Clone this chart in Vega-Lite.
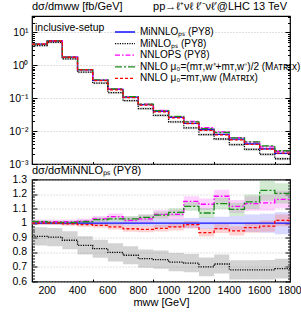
{
 "$schema": "https://vega.github.io/schema/vega-lite/v6.json",
 "padding": {"left": 5, "top": 0, "right": 5, "bottom": 5},
 "spacing": -7.5,
 "resolve": {"legend": {"color": "independent", "strokeDash": "independent"}},
 "config": {
  "font": "Liberation Sans",
  "view": {"stroke": "black", "strokeWidth": 1.2},
  "axis": {"grid": true, "gridColor": "#b0b0b0", "gridDash": [1, 2], "gridWidth": 0.8, "domain": false, "tickColor": "black", "labelFont": "Liberation Sans", "labelFontSize": 10.5, "labelColor": "black", "labelFlush": false, "labelOverlap": false, "titleFont": "Liberation Sans", "titleFontWeight": "normal", "titleFontSize": 11, "titleColor": "black"},
  "title": {"font": "Liberation Sans", "fontSize": 11, "fontWeight": "normal", "anchor": "start", "frame": "group", "color": "black"},
  "text": {"font": "Liberation Sans"}
 },
 "datasets": {
  "d": [
   {"g":"A","lo":100,"hi":200,"v":4.4,"vl":4.365,"vh":4.435,"r":1,"rl":0.992,"rh":1.008},
   {"g":"A","lo":200,"hi":300,"v":5.5,"vl":5.456,"vh":5.544,"r":1,"rl":0.992,"rh":1.008},
   {"g":"A","lo":300,"hi":400,"v":1.77,"vl":1.752,"vh":1.788,"r":1,"rl":0.99,"rh":1.01},
   {"g":"A","lo":400,"hi":500,"v":0.73,"vl":0.721,"vh":0.739,"r":1,"rl":0.988,"rh":1.012},
   {"g":"A","lo":500,"hi":600,"v":0.35,"vl":0.3448,"vh":0.3553,"r":1,"rl":0.985,"rh":1.015},
   {"g":"A","lo":600,"hi":700,"v":0.185,"vl":0.1817,"vh":0.1883,"r":1,"rl":0.982,"rh":1.018},
   {"g":"A","lo":700,"hi":800,"v":0.108,"vl":0.1058,"vh":0.1102,"r":1,"rl":0.98,"rh":1.02},
   {"g":"A","lo":800,"hi":900,"v":0.064,"vl":0.0624,"vh":0.0656,"r":1,"rl":0.975,"rh":1.025},
   {"g":"A","lo":900,"hi":1000,"v":0.04,"vl":0.0388,"vh":0.0412,"r":1,"rl":0.97,"rh":1.03},
   {"g":"A","lo":1000,"hi":1100,"v":0.026,"vl":0.02522,"vh":0.02678,"r":1,"rl":0.97,"rh":1.03},
   {"g":"A","lo":1100,"hi":1200,"v":0.0172,"vl":0.0166,"vh":0.0178,"r":1,"rl":0.965,"rh":1.035},
   {"g":"A","lo":1200,"hi":1300,"v":0.0112,"vl":0.01075,"vh":0.01165,"r":1,"rl":0.96,"rh":1.04},
   {"g":"A","lo":1300,"hi":1400,"v":0.008,"vl":0.00764,"vh":0.00836,"r":1,"rl":0.955,"rh":1.045},
   {"g":"A","lo":1400,"hi":1500,"v":0.0057,"vl":0.005415,"vh":0.005985,"r":1,"rl":0.95,"rh":1.05},
   {"g":"A","lo":1500,"hi":1600,"v":0.0041,"vl":0.003854,"vh":0.004346,"r":1,"rl":0.94,"rh":1.06},
   {"g":"A","lo":1600,"hi":1700,"v":0.0029,"vl":0.002712,"vh":0.003089,"r":1,"rl":0.935,"rh":1.065},
   {"g":"A","lo":1700,"hi":1800,"v":0.0021,"vl":0.001943,"vh":0.002258,"r":1,"rl":0.925,"rh":1.075},
   {"g":"B","lo":100,"hi":200,"v":4.004,"vl":3.727,"vh":4.281,"r":0.91,"rl":0.847,"rh":0.973},
   {"g":"B","lo":200,"hi":300,"v":4.978,"vl":4.631,"vh":5.324,"r":0.905,"rl":0.842,"rh":0.968},
   {"g":"B","lo":300,"hi":400,"v":1.563,"vl":1.453,"vh":1.673,"r":0.883,"rl":0.821,"rh":0.945},
   {"g":"B","lo":400,"hi":500,"v":0.619,"vl":0.574,"vh":0.664,"r":0.848,"rl":0.786,"rh":0.91},
   {"g":"B","lo":500,"hi":600,"v":0.2888,"vl":0.2671,"vh":0.3105,"r":0.825,"rl":0.763,"rh":0.887},
   {"g":"B","lo":600,"hi":700,"v":0.148,"vl":0.1365,"vh":0.1595,"r":0.8,"rl":0.738,"rh":0.862},
   {"g":"B","lo":700,"hi":800,"v":0.08424,"vl":0.07754,"vh":0.09094,"r":0.78,"rl":0.718,"rh":0.842},
   {"g":"B","lo":800,"hi":900,"v":0.04845,"vl":0.04448,"vh":0.05242,"r":0.757,"rl":0.695,"rh":0.819},
   {"g":"B","lo":900,"hi":1000,"v":0.03,"vl":0.02748,"vh":0.03252,"r":0.75,"rl":0.687,"rh":0.813},
   {"g":"B","lo":1000,"hi":1100,"v":0.01906,"vl":0.01742,"vh":0.0207,"r":0.733,"rl":0.67,"rh":0.796},
   {"g":"B","lo":1100,"hi":1200,"v":0.01249,"vl":0.0114,"vh":0.01357,"r":0.726,"rl":0.663,"rh":0.789},
   {"g":"B","lo":1200,"hi":1300,"v":0.00784,"vl":0.007123,"vh":0.008557,"r":0.7,"rl":0.636,"rh":0.764},
   {"g":"B","lo":1300,"hi":1400,"v":0.00576,"vl":0.00524,"vh":0.00628,"r":0.72,"rl":0.655,"rh":0.785},
   {"g":"B","lo":1400,"hi":1500,"v":0.003876,"vl":0.0035,"vh":0.004252,"r":0.68,"rl":0.614,"rh":0.746},
   {"g":"B","lo":1500,"hi":1600,"v":0.002788,"vl":0.002517,"vh":0.003059,"r":0.68,"rl":0.614,"rh":0.746},
   {"g":"B","lo":1600,"hi":1700,"v":0.001972,"vl":0.001778,"vh":0.002166,"r":0.68,"rl":0.613,"rh":0.747},
   {"g":"B","lo":1700,"hi":1800,"v":0.001445,"vl":0.001302,"vh":0.001588,"r":0.688,"rl":0.62,"rh":0.756},
   {"g":"C","lo":100,"hi":200,"v":4.444,"vl":4.378,"vh":4.51,"r":1.01,"rl":0.995,"rh":1.025},
   {"g":"C","lo":200,"hi":300,"v":5.555,"vl":5.473,"vh":5.638,"r":1.01,"rl":0.995,"rh":1.025},
   {"g":"C","lo":300,"hi":400,"v":1.788,"vl":1.761,"vh":1.814,"r":1.01,"rl":0.995,"rh":1.025},
   {"g":"C","lo":400,"hi":500,"v":0.741,"vl":0.7278,"vh":0.7541,"r":1.015,"rl":0.997,"rh":1.033},
   {"g":"C","lo":500,"hi":600,"v":0.3605,"vl":0.3535,"vh":0.3675,"r":1.03,"rl":1.01,"rh":1.05},
   {"g":"C","lo":600,"hi":700,"v":0.1933,"vl":0.1893,"vh":0.1974,"r":1.045,"rl":1.023,"rh":1.067},
   {"g":"C","lo":700,"hi":800,"v":0.1102,"vl":0.1075,"vh":0.1129,"r":1.02,"rl":0.995,"rh":1.045},
   {"g":"C","lo":800,"hi":900,"v":0.06592,"vl":0.06413,"vh":0.06771,"r":1.03,"rl":1.002,"rh":1.058},
   {"g":"C","lo":900,"hi":1000,"v":0.0424,"vl":0.0412,"vh":0.0436,"r":1.06,"rl":1.03,"rh":1.09},
   {"g":"C","lo":1000,"hi":1100,"v":0.02756,"vl":0.02673,"vh":0.02839,"r":1.06,"rl":1.028,"rh":1.092},
   {"g":"C","lo":1100,"hi":1200,"v":0.01978,"vl":0.01918,"vh":0.02038,"r":1.15,"rl":1.115,"rh":1.185},
   {"g":"C","lo":1200,"hi":1300,"v":0.01266,"vl":0.01221,"vh":0.0131,"r":1.13,"rl":1.09,"rh":1.17},
   {"g":"C","lo":1300,"hi":1400,"v":0.00948,"vl":0.00912,"vh":0.00984,"r":1.185,"rl":1.14,"rh":1.23},
   {"g":"C","lo":1400,"hi":1500,"v":0.006356,"vl":0.006099,"vh":0.006612,"r":1.115,"rl":1.07,"rh":1.16},
   {"g":"C","lo":1500,"hi":1600,"v":0.004654,"vl":0.004449,"vh":0.004859,"r":1.135,"rl":1.085,"rh":1.185},
   {"g":"C","lo":1600,"hi":1700,"v":0.003306,"vl":0.003147,"vh":0.003466,"r":1.14,"rl":1.085,"rh":1.195},
   {"g":"C","lo":1700,"hi":1800,"v":0.002442,"vl":0.002316,"vh":0.002568,"r":1.163,"rl":1.103,"rh":1.223},
   {"g":"D","lo":100,"hi":200,"v":4.444,"vl":4.391,"vh":4.497,"r":1.01,"rl":0.998,"rh":1.022},
   {"g":"D","lo":200,"hi":300,"v":5.528,"vl":5.462,"vh":5.594,"r":1.005,"rl":0.993,"rh":1.017},
   {"g":"D","lo":300,"hi":400,"v":1.779,"vl":1.758,"vh":1.8,"r":1.005,"rl":0.993,"rh":1.017},
   {"g":"D","lo":400,"hi":500,"v":0.7373,"vl":0.7271,"vh":0.7475,"r":1.01,"rl":0.996,"rh":1.024},
   {"g":"D","lo":500,"hi":600,"v":0.3588,"vl":0.3532,"vh":0.3644,"r":1.025,"rl":1.009,"rh":1.041},
   {"g":"D","lo":600,"hi":700,"v":0.1906,"vl":0.1872,"vh":0.1939,"r":1.03,"rl":1.012,"rh":1.048},
   {"g":"D","lo":700,"hi":800,"v":0.1112,"vl":0.1091,"vh":0.1134,"r":1.03,"rl":1.01,"rh":1.05},
   {"g":"D","lo":800,"hi":900,"v":0.06656,"vl":0.06515,"vh":0.06797,"r":1.04,"rl":1.018,"rh":1.062},
   {"g":"D","lo":900,"hi":1000,"v":0.0422,"vl":0.0412,"vh":0.0432,"r":1.055,"rl":1.03,"rh":1.08},
   {"g":"D","lo":1000,"hi":1100,"v":0.02795,"vl":0.02722,"vh":0.02868,"r":1.075,"rl":1.047,"rh":1.103},
   {"g":"D","lo":1100,"hi":1200,"v":0.01918,"vl":0.01866,"vh":0.01969,"r":1.115,"rl":1.085,"rh":1.145},
   {"g":"D","lo":1200,"hi":1300,"v":0.01198,"vl":0.01159,"vh":0.01238,"r":1.07,"rl":1.035,"rh":1.105},
   {"g":"D","lo":1300,"hi":1400,"v":0.00908,"vl":0.00876,"vh":0.0094,"r":1.135,"rl":1.095,"rh":1.175},
   {"g":"D","lo":1400,"hi":1500,"v":0.006242,"vl":0.005985,"vh":0.006498,"r":1.095,"rl":1.05,"rh":1.14},
   {"g":"D","lo":1500,"hi":1600,"v":0.004703,"vl":0.004498,"vh":0.004908,"r":1.147,"rl":1.097,"rh":1.197},
   {"g":"D","lo":1600,"hi":1700,"v":0.003553,"vl":0.00335,"vh":0.003756,"r":1.225,"rl":1.155,"rh":1.295},
   {"g":"D","lo":1700,"hi":1800,"v":0.00253,"vl":0.002384,"vh":0.002678,"r":1.205,"rl":1.135,"rh":1.275},
   {"g":"E","lo":100,"hi":200,"v":4.4,"vl":4.356,"vh":4.444,"r":1,"rl":0.99,"rh":1.01},
   {"g":"E","lo":200,"hi":300,"v":5.5,"vl":5.445,"vh":5.555,"r":1,"rl":0.99,"rh":1.01},
   {"g":"E","lo":300,"hi":400,"v":1.761,"vl":1.74,"vh":1.782,"r":0.995,"rl":0.983,"rh":1.007},
   {"g":"E","lo":400,"hi":500,"v":0.7227,"vl":0.7125,"vh":0.7329,"r":0.99,"rl":0.976,"rh":1.004},
   {"g":"E","lo":500,"hi":600,"v":0.3448,"vl":0.3392,"vh":0.3504,"r":0.985,"rl":0.969,"rh":1.001},
   {"g":"E","lo":600,"hi":700,"v":0.1804,"vl":0.177,"vh":0.1837,"r":0.975,"rl":0.957,"rh":0.993},
   {"g":"E","lo":700,"hi":800,"v":0.1039,"vl":0.1017,"vh":0.1061,"r":0.962,"rl":0.942,"rh":0.982},
   {"g":"E","lo":800,"hi":900,"v":0.06131,"vl":0.06003,"vh":0.06259,"r":0.958,"rl":0.938,"rh":0.978},
   {"g":"E","lo":900,"hi":1000,"v":0.0386,"vl":0.03772,"vh":0.03948,"r":0.965,"rl":0.943,"rh":0.987},
   {"g":"E","lo":1000,"hi":1100,"v":0.02535,"vl":0.0247,"vh":0.026,"r":0.975,"rl":0.95,"rh":1.0},
   {"g":"E","lo":1100,"hi":1200,"v":0.01703,"vl":0.0166,"vh":0.01746,"r":0.99,"rl":0.965,"rh":1.015},
   {"g":"E","lo":1200,"hi":1300,"v":0.01048,"vl":0.01017,"vh":0.0108,"r":0.936,"rl":0.908,"rh":0.964},
   {"g":"E","lo":1300,"hi":1400,"v":0.0077,"vl":0.00746,"vh":0.00794,"r":0.963,"rl":0.933,"rh":0.993},
   {"g":"E","lo":1400,"hi":1500,"v":0.005398,"vl":0.005216,"vh":0.00558,"r":0.947,"rl":0.915,"rh":0.979},
   {"g":"E","lo":1500,"hi":1600,"v":0.003977,"vl":0.003834,"vh":0.004121,"r":0.97,"rl":0.935,"rh":1.005},
   {"g":"E","lo":1600,"hi":1700,"v":0.002842,"vl":0.002732,"vh":0.002952,"r":0.98,"rl":0.942,"rh":1.018},
   {"g":"E","lo":1700,"hi":1800,"v":0.002142,"vl":0.002058,"vh":0.002226,"r":1.02,"rl":0.98,"rh":1.06}
  ],
  "ylab": [
   {"t": 0.6, "s": "0.6"}, {"t": 0.7, "s": "0.7"}, {"t": 0.8, "s": "0.8"}, {"t": 0.9, "s": "0.9"},
   {"t": 1.0, "s": "1"}, {"t": 1.1, "s": "1.1"}, {"t": 1.2, "s": "1.2"}, {"t": 1.3, "s": "1.3"}
  ],
  "xlab": [
   {"t": 200, "s": "200"}, {"t": 400, "s": "400"}, {"t": 600, "s": "600"}, {"t": 800, "s": "800"}, {"t": 1000, "s": "1000"},
   {"t": 1200, "s": "1200"}, {"t": 1400, "s": "1400"}, {"t": 1600, "s": "1600"}, {"t": 1800, "s": "1800"}
  ]
 },
 "vconcat": [
  {
   "width": 258,
   "height": 148,
   "title": {"text": "dσ/dmww [fb/GeV]\u00a0\u00a0\u00a0\u00a0\u00a0\u00a0\u00a0\u00a0\u00a0\u00a0pp→ℓ⁺νℓ ℓ′⁻νℓ′@LHC 13 TeV", "offset": 0, "frame": "group", "anchor": "start"},
   "resolve": {"axis": {"y": "independent"}},
   "layer": [
    {
     "data": {"name": "d"},
     "mark": {"type": "rect", "opacity": 0.35, "clip": true},
     "encoding": {
      "x": {"field": "lo", "type": "quantitative", "scale": {"domain": [100, 1800], "nice": false},
            "axis": {"title": null, "labels": false, "values": [100,200,300,400,500,600,700,800,900,1000,1100,1200,1300,1400,1500,1600,1700,1800],
                     "tickSize": {"condition": {"test": "datum.value % 200 == 0", "value": -5}, "value": -2.5},
                     "gridOpacity": {"condition": {"test": "datum.value % 200 == 0", "value": 1}, "value": 0}}},
      "x2": {"field": "hi"},
      "y": {"field": "vl", "type": "quantitative", "scale": {"type": "log", "domain": [0.001, 31.62], "nice": false},
            "axis": {"title": null, "orient": "left", "minExtent": 26, "maxExtent": 26, "labelPadding": 9,
                     "values": [0.001,0.002,0.003,0.004,0.005,0.006,0.007,0.008,0.009,0.01,0.02,0.03,0.04,0.05,0.06,0.07,0.08,0.09,0.1,0.2,0.3,0.4,0.5,0.6,0.7,0.8,0.9,1,2,3,4,5,6,7,8,9,10,20,30],
                     "labelExpr": "abs(log(datum.value)/LN10-round(log(datum.value)/LN10))<0.001 ? {'1':'10¹','0':'10⁰','-1':'10⁻¹','-2':'10⁻²','-3':'10⁻³'}[''+round(log(datum.value)/LN10)] : ''",
                     "tickSize": {"condition": {"test": "abs(log(datum.value)/LN10-round(log(datum.value)/LN10))<0.001", "value": -5}, "value": -2.5},
                     "gridOpacity": {"condition": {"test": "abs(log(datum.value)/LN10-round(log(datum.value)/LN10))<0.001", "value": 1}, "value": 0}}},
      "y2": {"field": "vh"},
      "fill": {"field": "g", "type": "nominal", "scale": {"domain": ["A","B","C","D","E"], "range": ["#8c8cff","#808080","#ff80ff","#7cc47c","#ff7f7f"]}, "legend": null}
     }
    },
    {
     "data": {"name": "d"},
     "transform": [{"fold": ["lo", "hi"], "as": ["k", "x"]}],
     "mark": {"type": "line", "strokeWidth": 1.3, "clip": true},
     "encoding": {
      "x": {"field": "x", "type": "quantitative"},
      "y": {"field": "v", "type": "quantitative", "axis": null},
      "color": {"field": "g", "type": "nominal", "scale": {"domain": ["A","B","C","D","E"], "range": ["#1010ff","#000000","#ff00ff","#1a8c1a","#ff0000"]},
                "legend": {"orient": "none", "legendX": 88, "legendY": 11, "padding": 0, "title": null, "symbolType": "M-3,0H3", "symbolSize": 44.4, "symbolStrokeWidth": 1.3, "labelFontSize": 10, "labelFont": "Liberation Sans", "labelColor": "black", "labelOffset": 10, "rowPadding": 1.6, "labelLimit": 300,
                           "labelExpr": "{'A':'MiNNLOₚₛ (PY8)','B':'MiNLOₚₛ (PY8)','C':'NNLOPS (PY8)','D':'NNLO μ₀=(mᴛ,ᴡ⁺+mᴛ,ᴡ⁻)/2 (Mᴀᴛʀɪx)','E':'NNLO μ₀=mᴛ,ᴡᴡ (Mᴀᴛʀɪx)'}[datum.label]"}},
      "strokeDash": {"field": "g", "type": "nominal", "scale": {"domain": ["A","B","C","D","E"], "range": [[1,0],[1.2,1.2],[5,2,1.5,2],[7,2,2,2],[3,2]]},
                "legend": {"orient": "none", "legendX": 88, "legendY": 11, "padding": 0, "title": null, "symbolType": "M-3,0H3", "symbolSize": 44.4, "symbolStrokeWidth": 1.3, "labelFontSize": 10, "labelFont": "Liberation Sans", "labelColor": "black", "labelOffset": 10, "rowPadding": 1.6, "labelLimit": 300,
                           "labelExpr": "{'A':'MiNNLOₚₛ (PY8)','B':'MiNLOₚₛ (PY8)','C':'NNLOPS (PY8)','D':'NNLO μ₀=(mᴛ,ᴡ⁺+mᴛ,ᴡ⁻)/2 (Mᴀᴛʀɪx)','E':'NNLO μ₀=mᴛ,ᴡᴡ (Mᴀᴛʀɪx)'}[datum.label]"}},
      "order": [{"field": "x", "type": "quantitative"}, {"field": "k", "type": "ordinal"}]
     }
    },
    {
     "data": {"values": [{"t": "inclusive-setup"}]},
     "mark": {"type": "text", "align": "left", "baseline": "middle", "dx": 3, "fontSize": 10.5, "color": "black"},
     "encoding": {"x": {"datum": 100, "type": "quantitative"},
                  "y": {"datum": 13.7, "type": "quantitative",
                        "axis": {"title": null, "orient": "right", "labels": false, "grid": false, "minExtent": 0, "maxExtent": 0,
                                 "values": [0.001,0.002,0.003,0.004,0.005,0.006,0.007,0.008,0.009,0.01,0.02,0.03,0.04,0.05,0.06,0.07,0.08,0.09,0.1,0.2,0.3,0.4,0.5,0.6,0.7,0.8,0.9,1,2,3,4,5,6,7,8,9,10,20,30],
                                 "tickSize": {"condition": {"test": "abs(log(datum.value)/LN10-round(log(datum.value)/LN10))<0.001", "value": -5}, "value": -2.5}}},
                  "text": {"field": "t"}}
    }
   ]
  },
  {
   "width": 258,
   "height": 102,
   "title": {"text": "dσ/dσMiNNLOₚₛ (PY8)", "offset": -1, "frame": "group", "anchor": "start"},
   "resolve": {"axis": {"y": "independent"}},
   "layer": [
    {
     "data": {"name": "d"},
     "mark": {"type": "rect", "opacity": 0.35, "clip": true},
     "encoding": {
      "x": {"field": "lo", "type": "quantitative", "scale": {"domain": [100, 1800], "nice": false},
            "axis": {"title": "mww [GeV]", "titlePadding": 14, "labels": false,
                     "values": [100,200,300,400,500,600,700,800,900,1000,1100,1200,1300,1400,1500,1600,1700,1800],
                     "tickSize": {"condition": {"test": "datum.value % 200 == 0", "value": -5}, "value": -2.5},
                     "gridOpacity": {"condition": {"test": "datum.value % 200 == 0", "value": 1}, "value": 0}}},
      "x2": {"field": "hi"},
      "y": {"field": "rl", "type": "quantitative", "scale": {"domain": [0.6, 1.3], "nice": false, "zero": false},
            "axis": {"title": null, "orient": "left", "minExtent": 26, "maxExtent": 26, "labels": false,
                     "values": [0.6,0.62,0.64,0.66,0.68,0.7,0.72,0.74,0.76,0.78,0.8,0.82,0.84,0.86,0.88,0.9,0.92,0.94,0.96,0.98,1,1.02,1.04,1.06,1.08,1.1,1.12,1.14,1.16,1.18,1.2,1.22,1.24,1.26,1.28,1.3],
                     "tickSize": {"condition": {"test": "abs(datum.value*10-round(datum.value*10))<0.001", "value": -5}, "value": -2.5},
                     "gridOpacity": {"condition": {"test": "abs(datum.value*10-round(datum.value*10))<0.001", "value": 1}, "value": 0}}},
      "y2": {"field": "rh"},
      "fill": {"field": "g", "type": "nominal", "scale": {"domain": ["A","B","C","D","E"], "range": ["#8c8cff","#808080","#ff80ff","#7cc47c","#ff7f7f"]}, "legend": null}
     }
    },
    {
     "data": {"name": "d"},
     "transform": [{"fold": ["lo", "hi"], "as": ["k", "x"]}],
     "mark": {"type": "line", "strokeWidth": 1.3, "clip": true},
     "encoding": {
      "x": {"field": "x", "type": "quantitative"},
      "y": {"field": "r", "type": "quantitative", "axis": null},
      "color": {"field": "g", "type": "nominal", "scale": {"domain": ["A","B","C","D","E"], "range": ["#1010ff","#000000","#ff00ff","#1a8c1a","#ff0000"]}, "legend": null},
      "strokeDash": {"field": "g", "type": "nominal", "scale": {"domain": ["A","B","C","D","E"], "range": [[1,0],[1.2,1.2],[5,2,1.5,2],[7,2,2,2],[3,2]]}, "legend": null},
      "order": [{"field": "x", "type": "quantitative"}, {"field": "k", "type": "ordinal"}]
     }
    },
    {
     "data": {"name": "ylab"},
     "mark": {"type": "text", "align": "right", "baseline": "middle", "dx": -5, "fontSize": 10.5, "color": "black"},
     "encoding": {"x": {"datum": 100, "type": "quantitative"},
                  "y": {"field": "t", "type": "quantitative",
                        "axis": {"title": null, "orient": "right", "labels": false, "grid": false, "minExtent": 0, "maxExtent": 0,
                                 "values": [0.6,0.62,0.64,0.66,0.68,0.7,0.72,0.74,0.76,0.78,0.8,0.82,0.84,0.86,0.88,0.9,0.92,0.94,0.96,0.98,1,1.02,1.04,1.06,1.08,1.1,1.12,1.14,1.16,1.18,1.2,1.22,1.24,1.26,1.28,1.3],
                                 "tickSize": {"condition": {"test": "abs(datum.value*10-round(datum.value*10))<0.001", "value": -5}, "value": -2.5}}},
                  "text": {"field": "s"}}
    },
    {
     "data": {"name": "xlab"},
     "mark": {"type": "text", "align": "center", "baseline": "top", "dy": 4, "fontSize": 10.5, "color": "black"},
     "encoding": {"x": {"field": "t", "type": "quantitative"}, "y": {"datum": 0.6, "type": "quantitative", "axis": null}, "text": {"field": "s"}}
    }
   ]
  }
 ]
}
